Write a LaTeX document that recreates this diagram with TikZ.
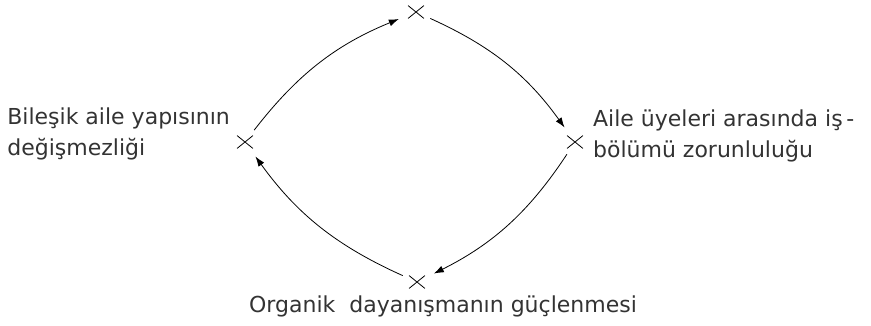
\documentclass[tikz,border=0pt]{standalone}
\usepackage{fontspec}
\setmainfont{DejaVu Sans}
\usepackage{tikz}
\usetikzlibrary{shapes.misc, arrows.meta, positioning}

\begin{document}
\begin{tikzpicture}[
    x=1pt, y=-1pt,
    every node/.style={font=\fontsize{22}{31}\selectfont},
    mk/.style={cross out, draw=black, line width=0.8pt, minimum width=15pt, minimum height=12pt, inner sep=0pt},
    lbl/.style={align=left, inner sep=0pt, text=black!80},
    arr/.style={-{Latex[length=10pt, width=7pt]}, line width=0.8pt, shorten <=7pt, shorten >=10pt}
]
\useasboundingbox (0,0) rectangle (871,325);
% the four crosses
\foreach \x/\y/\nm in {416/12/t, 575/142/r, 417/282/b, 245/142/l}{
    \node[mk] (\nm) at (\x,\y) {};
}
% labels beside the crosses
\node[lbl, left=7pt of l, yshift=8pt] (ltxt) {Bileşik aile yapısının\\değişmezliği};
\node[lbl, right=10pt of r, yshift=6pt] (rtxt) {Aile üyeleri arasında iş\,-\\bölümü zorunluluğu};
\node[lbl, below=7pt of b, xshift=26pt] (btxt) {Organik\ \ dayanışmanın güçlenmesi};
% the cycle
\foreach \a/\b in {l/t, t/r, r/b, b/l}{
    \draw[arr] (\a) to[bend left=15] (\b);
}
\end{tikzpicture}
\end{document}
